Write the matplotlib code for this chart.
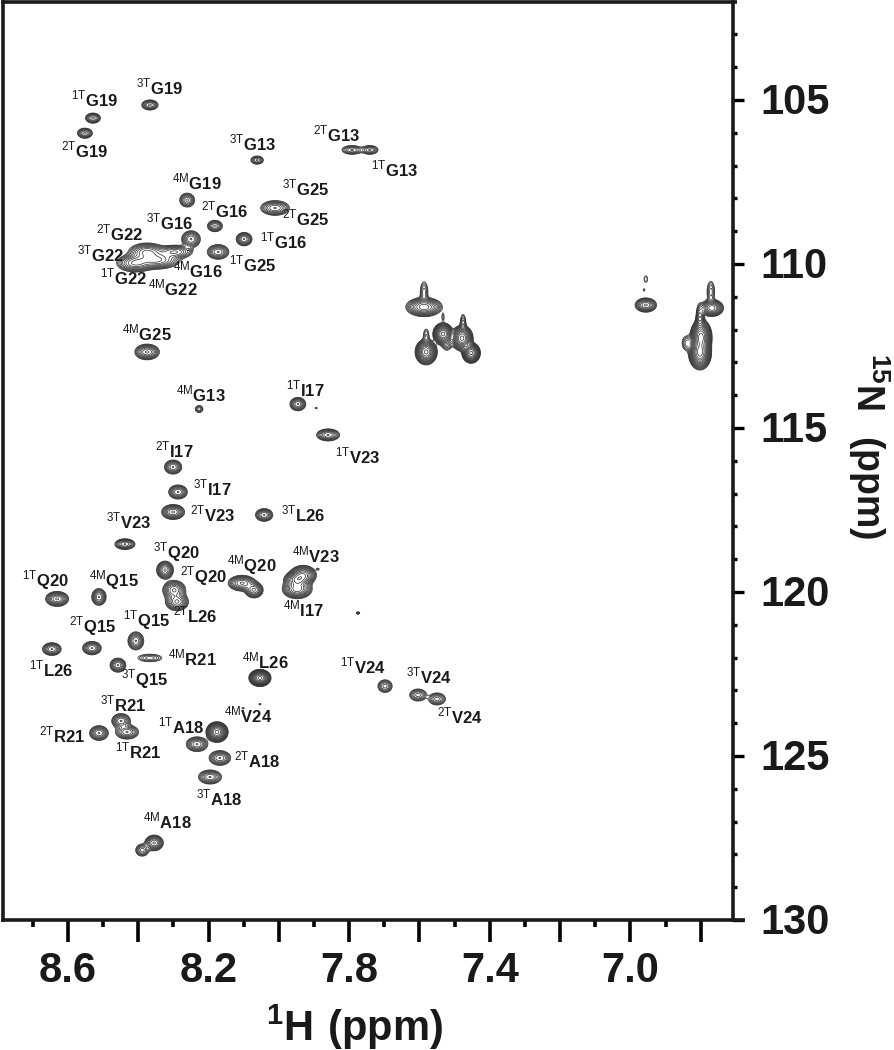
import numpy as np
import matplotlib
matplotlib.use('Agg')
import matplotlib.pyplot as plt
from matplotlib.ticker import MultipleLocator, FixedLocator, FixedFormatter
from matplotlib.transforms import ScaledTranslation

plt.rcParams['font.family'] = ['Liberation Sans', 'DejaVu Sans']
plt.rcParams['mathtext.fontset'] = 'custom'
plt.rcParams['mathtext.rm'] = 'Liberation Sans'
plt.rcParams['mathtext.bf'] = 'Liberation Sans:bold'

# Peak table
peak_h = [8.529, 8.552, 8.367, 8.062, 7.792, 7.741, 8.261, 8.011, 8.182, 8.250,
          8.099, 8.173, 8.375, 8.409, 8.347, 8.296, 8.253, 8.375, 8.227, 7.946,
          7.894, 7.860, 8.301, 8.287, 8.301, 8.042, 8.438, 8.324, 8.298, 8.290,
          8.105, 8.071, 7.931, 7.948, 7.948, 7.889, 7.775, 8.631, 8.512, 8.407,
          8.532, 8.646, 8.458, 8.367, 8.054, 8.102, 8.054, 8.449, 8.432, 8.512,
          8.233, 8.176, 8.168, 8.196, 8.355, 8.389, 7.698, 7.604, 7.550,
          7.587, 7.587, 7.533, 7.476, 7.533, 7.479, 7.522, 7.453, 7.581, 7.581,
          6.956, 6.956, 6.961, 6.768, 6.771, 6.799, 6.802, 6.802, 6.839]
peak_n = [105.55, 106.01, 105.15, 106.83, 106.52, 106.52, 108.05, 108.29, 108.84, 109.24,
          109.24, 109.63, 109.63, 109.97, 109.88, 109.63, 109.57, 112.68, 114.42, 114.27,
          114.39, 115.21, 116.19, 116.95, 117.56, 117.65, 118.54, 119.33, 119.94, 120.30,
          119.73, 119.94, 119.48, 119.63, 119.91, 119.30, 120.64, 120.21, 120.15, 121.49,
          121.71, 121.74, 122.23, 122.01, 122.62, 123.54, 123.42, 123.93, 124.27, 124.30,
          124.64, 124.27, 125.06, 125.64, 127.65, 127.87, 122.87, 123.14, 123.26,
          111.31, 110.85, 111.62, 111.80, 112.13, 112.26, 112.41, 112.71, 112.68, 112.17,
          111.25, 110.46, 110.79, 111.34, 110.85, 112.23, 112.71, 111.71, 112.41]
peak_amp = [1.2, 1.2, 1.2, 0.9, 0.9, 0.9, 1.2, 1.5, 1.2, 1.5,
            1.5, 1.5, 2.0, 2.0, 2.0, 1.5, 0.25, 2.0, 0.6, 1.5,
            0.25, 1.5, 1.5, 1.5, 2.0, 1.5, 1.5, 2.0, 2.0, 2.0,
            2.0, 2.0, 3.0, 3.0, 3.0, 0.25, 0.4, 2.0, 1.5, 1.5,
            1.5, 1.5, 1.5, 0.6, 6.0, 0.25, 0.25, 1.5, 1.5, 1.5,
            1.5, 6.0, 1.5, 1.5, 2.0, 1.0, 1.0, 1.0, 1.0,
            3.0, 0.6, 0.3, 0.6, 6.0, 6.0, 0.6, 6.0, 6.0, 0.4,
            2.0, 0.3, 0.25, 3.0, 0.6, 8.0, 8.0, 1.2, 0.6]
peak_wh = [.011, .011, .012, .010, .016, .013, .011, .020, .011, .013,
           .011, .015, .024, .024, .030, .024, .004, .016, .007, .011,
           .004, .016, .012, .013, .015, .012, .014, .011, .015, .015,
           .018, .012, .016, .016, .018, .004, .004, .015, .010, .011,
           .013, .013, .011, .022, .012, .004, .004, .013, .016, .013,
           .015, .012, .015, .016, .012, .010, .011, .013, .013,
           .022, .007, .003, .005, .011, .012, .009, .010, .012, .006,
           .014, .005, .003, .014, .007, .0115, .012, .006, .009]
peak_wn = [.08, .08, .08, .07, .075, .075, .11, .11, .09, .125,
           .10, .11, .125, .125, .125, .10, .03, .11, .07, .10,
           .03, .09, .105, .105, .105, .095, .08, .125, .135, .125,
           .11, .11, .125, .11, .125, .03, .03, .105, .125, .135,
           .10, .095, .105, .075, .10, .03, .03, .11, .105, .11,
           .11, .12, .11, .105, .11, .10, .105, .10, .10,
           .125, .20, .10, .17, .13, .15, .14, .12, .15, .15,
           .10, .10, .05, .11, .21, .20, .19, .25, .14]

x_major = [8.6, 8.4, 8.2, 8.0, 7.8, 7.6, 7.4, 7.2, 7.0, 6.8]
x_labels = ['8.6', '', '8.2', '', '7.8', '', '7.4', '', '7.0', '']
y_major = [105, 110, 115, 120, 125, 130]

# residue labels and where they sit on the page (pixels)
label_tag = ['1T', '2T', '3T', '3T', '2T', '1T', '4M', '3T', '2T', '2T', '1T', '3T', '2T',
             '3T', '1T', '4M', '4M', '1T', '4M', '4M', '1T', '1T', '2T', '3T', '2T', '3T',
             '3T', '3T', '2T', '4M', '4M', '4M', '1T', '4M', '1T', '2T', '2T', '1T', '4M',
             '3T', '4M', '1T', '3T', '2T', '3T', '1T', '4M', '2T', '1T', '2T', '3T', '4M']
label_res = ['G19', 'G19', 'G19', 'G13', 'G13', 'G13', 'G19', 'G25', 'G25', 'G16', 'G16', 'G16', 'G22',
             'G22', 'G22', 'G22', 'G16', 'G25', 'G25', 'G13', 'I17', 'V23', 'I17', 'I17', 'V23', 'L26',
             'V23', 'Q20', 'Q20', 'Q20', 'V23', 'I17', 'Q20', 'Q15', 'Q15', 'L26', 'Q15', 'L26', 'R21',
             'Q15', 'L26', 'V24', 'V24', 'V24', 'R21', 'A18', 'V24', 'R21', 'R21', 'A18', 'A18', 'A18']
label_x = [95, 85, 160, 253, 337, 395, 197, 306, 306, 225, 284, 170, 120,
           101, 124, 173, 198, 253, 147, 201, 305, 358, 174, 212, 213, 303,
           129, 176, 203, 252, 316, 304, 45, 114, 147, 195, 93, 51, 192,
           145, 265, 363, 429, 460, 123, 181, 248, 62, 138, 257, 219, 167]
label_y = [99, 150, 87, 143, 134, 169, 182, 188, 218, 210, 241, 222, 233,
           254, 277, 288, 270, 264, 333, 394, 389, 456, 450, 488, 514, 514,
           521, 552, 576, 565, 555, 609, 580, 580, 620, 615, 626, 669, 658,
           679, 661, 666, 676, 716, 704, 726, 715, 735, 751, 760, 798, 821]

W, H = 894, 1050
fig = plt.figure(figsize=(W / 100, H / 100), dpi=100)
ax = fig.add_axes([3 / W, 1 - 920 / H, 730 / W, 918 / H])

xlim = (8.785, 6.708)
ylim = (130.0, 102.01)

# build the spectrum from the peak table and contour it
hh = np.linspace(xlim[1], xlim[0], 1500)
nn = np.linspace(ylim[1], ylim[0], 1800)
X, Y = np.meshgrid(hh, nn)
Z = np.zeros_like(X)
for h, n, a, wh, wn in zip(peak_h, peak_n, peak_amp, peak_wh, peak_wn):
    Z += a * np.exp(-0.5 * ((X - h) / wh) ** 2 - 0.5 * ((Y - n) / wn) ** 2)

levels = 0.18 * 1.3 ** np.arange(0, 15)
ax.contour(X, Y, Z, levels=levels, colors='#2a2a2a', linewidths=0.5)

ax.set_xlim(xlim)
ax.set_ylim(ylim)

ax.yaxis.tick_right()
ax.xaxis.set_major_locator(FixedLocator(x_major))
ax.xaxis.set_major_formatter(FixedFormatter(x_labels))
ax.xaxis.set_minor_locator(MultipleLocator(0.1))
ax.yaxis.set_major_locator(FixedLocator(y_major))
ax.yaxis.set_minor_locator(MultipleLocator(1))
ax.tick_params(axis='x', which='major', length=15.5, width=2.6, pad=6.6, labelsize=30)
ax.tick_params(axis='x', which='minor', length=5, width=2.6)
ax.tick_params(axis='y', which='major', length=8, width=2.4, pad=12, labelsize=30)
ax.tick_params(axis='y', which='minor', length=3, width=2.4)
for t in ax.get_xticklabels() + ax.get_yticklabels():
    t.set_fontweight('bold')
    t.set_color('#1a1a1a')
# y tick numbers sit 2 px higher than the default centring
shift = ScaledTranslation(0, 2 / 100, fig.dpi_scale_trans)
for t in ax.get_yticklabels():
    t.set_transform(t.get_transform() + shift)
for s in ax.spines.values():
    s.set_linewidth(2.6)
    s.set_color('#1a1a1a')

# bottom and top axis lines run a little past the frame
ax.plot([1, 1 + 12 / 730], [0, 0], transform=ax.transAxes, color='#1a1a1a', lw=2.6, clip_on=False,
        solid_capstyle='butt')
ax.plot([1, 1 + 4 / 730], [1, 1], transform=ax.transAxes, color='#1a1a1a', lw=2.6, clip_on=False,
        solid_capstyle='butt')

for tag, res, lx, ly in zip(label_tag, label_res, label_x, label_y):
    fig.text(lx / W, 1 - ly / H, '$^{\\mathrm{%s}}\\mathbf{%s}$' % (tag, res),
             fontsize=12, ha='center', va='center', color='#1a1a1a')

fig.text(354 / W, 1 - 1027 / H, '$^{\\mathbf{1}}\\mathbf{H\\ (ppm)}$', fontsize=30,
         ha='center', va='center', color='#1a1a1a')
fig.text(869 / W, 1 - 446 / H, '$^{\\mathbf{15}}\\mathbf{N\\ \\ (ppm)}$', fontsize=27,
         ha='center', va='center', rotation=270, color='#1a1a1a')

fig.savefig('out.png', dpi=100)
